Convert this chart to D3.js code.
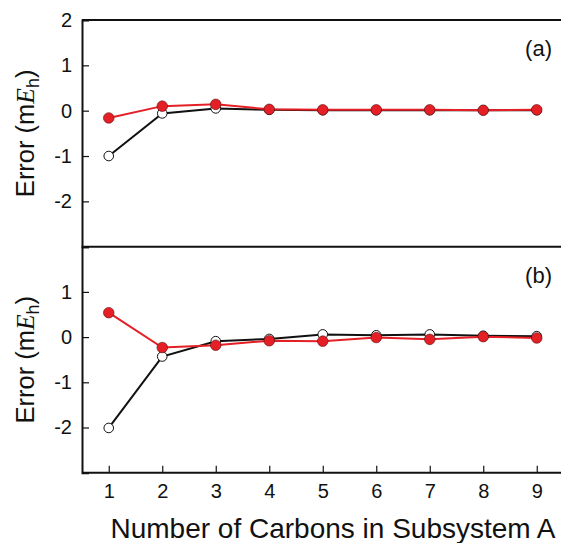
<!DOCTYPE html>
<html lang="en">
<head>
<meta charset="utf-8">
<title>error panels</title>
<script src="https://cdn.jsdelivr.net/npm/d3@7"></script>
<style>
body { margin: 0; background: #fff; }
text { font-family: "Liberation Sans", Arial, sans-serif; fill: #111; }
</style>
</head>
<body>
<div id="chart"></div>
<script>
// data
var carbons = [1, 2, 3, 4, 5, 6, 7, 8, 9]
var yTicksTop = [-2, -1, 0, 1, 2]
var yTicksBottom = [-2, -1, 0, 1]
var panelLabels = ["(a)", "(b)"]

var blackA = [-1.00, -0.06, 0.05, 0.02, 0.01, 0.01, 0.01, 0.01, 0.01]
var redA = [-0.16, 0.10, 0.14, 0.03, 0.02, 0.02, 0.02, 0.01, 0.02]
var blackB = [-2.01, -0.43, -0.09, -0.04, 0.06, 0.04, 0.06, 0.03, 0.02]
var redB = [0.54, -0.23, -0.18, -0.08, -0.09, -0.01, -0.05, 0.01, -0.02]

var W = 561, H = 543
var left = 82
var red = "#e41f26"

var svg = d3.select("#chart").append("svg")
    .attr("width", W).attr("height", H)

var x = d3.scaleLinear().domain([0.5, 9.5]).range([left, left + 9 * 53.5])

var panels = [
    {top: 20, bottom: 246.7, black: blackA, red: redA, ticks: yTicksTop, label: panelLabels[0]},
    {top: 246.7, bottom: 472.7, black: blackB, red: redB, ticks: yTicksBottom, label: panelLabels[1]}
]

panels.forEach(function(p) {
    var y = d3.scaleLinear().domain([-3, 2]).range([p.bottom, p.top])
    var g = svg.append("g")

    // top border of the panel
    g.append("line")
        .attr("x1", left).attr("x2", W)
        .attr("y1", p.top).attr("y2", p.top)
        .attr("stroke", "#111").attr("stroke-width", 2)

    var yAxis = d3.axisLeft(y).tickValues(p.ticks).tickSize(-7).tickPadding(10)
        .tickFormat(function(d) { return String(d) })
    var ya = g.append("g").attr("transform", "translate(" + left + ",0)").call(yAxis)
    ya.select(".domain").attr("stroke", "#111").attr("stroke-width", 2)
    ya.selectAll(".tick line").attr("stroke", "#111").attr("stroke-width", 1.2)
    ya.selectAll("text").attr("font-size", 20).style("font-family", "Liberation Sans, Arial, sans-serif")

    // y title
    var t = g.append("text")
        .attr("transform", "translate(34," + ((p.top + p.bottom) / 2) + ") rotate(-90)")
        .attr("text-anchor", "middle")
        .attr("font-size", 25.5)
    t.append("tspan").text("Error (m")
    t.append("tspan").attr("font-style", "italic").attr("font-family", "Liberation Serif, serif").text("E")
    t.append("tspan").attr("font-size", 18).attr("dy", 5).text("h")
    t.append("tspan").attr("dy", -5).text(")")

    g.append("text")
        .attr("x", 552).attr("y", p.top + 36)
        .attr("text-anchor", "end")
        .attr("font-size", 22)
        .text(p.label)

    var line = d3.line()
        .x(function(d, i) { return x(carbons[i]) })
        .y(function(d) { return y(d) })

    g.append("path").datum(p.black)
        .attr("d", line).attr("fill", "none")
        .attr("stroke", "#111").attr("stroke-width", 2)
    g.append("path").datum(p.red)
        .attr("d", line).attr("fill", "none")
        .attr("stroke", red).attr("stroke-width", 2)

    g.selectAll(".open").data(p.black).enter().append("circle")
        .attr("cx", function(d, i) { return x(carbons[i]) })
        .attr("cy", function(d) { return y(d) })
        .attr("r", 4.8)
        .attr("fill", "#fff").attr("stroke", "#111").attr("stroke-width", 1)

    g.selectAll(".filled").data(p.red).enter().append("circle")
        .attr("cx", function(d, i) { return x(carbons[i]) })
        .attr("cy", function(d) { return y(d) })
        .attr("r", 5.3)
        .attr("fill", red).attr("stroke", "#5a1010").attr("stroke-width", 0.6)
})

// bottom x axis
var xAxis = d3.axisBottom(x).tickValues(carbons).tickSize(-7).tickPadding(11)
var xa = svg.append("g").attr("transform", "translate(0,472.7)").call(xAxis)
xa.select(".domain").remove()
xa.append("line").attr("x1", left).attr("x2", W).attr("y1", 0).attr("y2", 0)
    .attr("stroke", "#111").attr("stroke-width", 2)
xa.selectAll(".tick line").attr("stroke", "#111").attr("stroke-width", 1.2)
xa.selectAll("text").attr("font-size", 20).style("font-family", "Liberation Sans, Arial, sans-serif")

svg.append("text")
    .attr("x", 333).attr("y", 538)
    .attr("text-anchor", "middle")
    .attr("font-size", 28)
    .text("Number of Carbons in Subsystem A")
</script>
</body>
</html>
